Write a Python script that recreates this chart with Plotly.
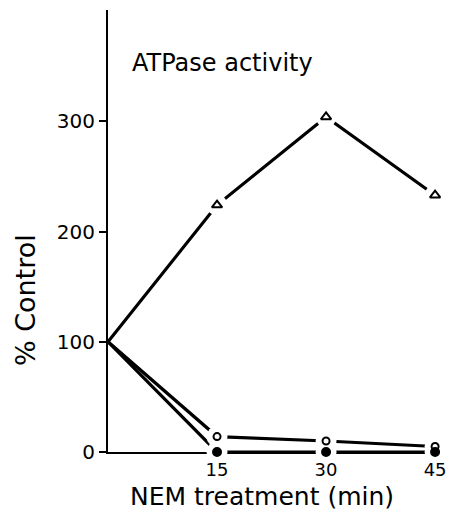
import plotly.graph_objects as go

time_min = [0, 15, 30, 45]
triangle_vals = [100, 224, 304, 233]
open_circle_vals = [100, 14, 10, 5]
filled_circle_vals = [100, 0, 0, 0]

x_ticks = [15, 30, 45]
y_ticks = [0, 100, 200, 300]

FONT = "DejaVu Sans"

fig = go.Figure()

series = [
    (triangle_vals, "triangle-up-open", 9),
    (open_circle_vals, "circle-open", 7),
    (filled_circle_vals, "circle", 8),
]

for vals, sym, sz in series:
    fig.add_trace(go.Scatter(x=time_min, y=vals, mode="lines",
                             line=dict(color="black", width=3.2),
                             showlegend=False, hoverinfo="skip", cliponaxis=False))
for vals, sym, sz in series:
    fig.add_trace(go.Scatter(x=time_min[1:], y=vals[1:], mode="markers",
                             marker=dict(symbol="circle", size=21, color="white",
                                         line=dict(width=0)),
                             showlegend=False, hoverinfo="skip", cliponaxis=False))
for vals, sym, sz in series:
    fig.add_trace(go.Scatter(x=time_min[1:], y=vals[1:], mode="markers",
                             marker=dict(symbol=sym, size=sz, color="black",
                                         line=dict(width=2, color="black")),
                             showlegend=False, hoverinfo="skip", cliponaxis=False))

fig.add_annotation(text="ATPase activity", x=0.067, y=0.88, xref="paper", yref="paper",
                   xanchor="left", yanchor="middle", showarrow=False,
                   font=dict(family=FONT, size=24, color="black"))
fig.add_annotation(text="NEM treatment (min)", x=0.467, y=-0.1, xref="paper", yref="paper",
                   xanchor="center", yanchor="middle", showarrow=False,
                   font=dict(family=FONT, size=25, color="black"))
fig.add_annotation(text="% Control", x=-0.248, y=0.344, xref="paper", yref="paper",
                   xanchor="center", yanchor="middle", showarrow=False, textangle=-90,
                   font=dict(family=FONT, size=27, color="black"))

fig.update_layout(
    width=450, height=510,
    margin=dict(l=108, r=12, t=10, b=58),
    paper_bgcolor="white", plot_bgcolor="white",
    font=dict(family=FONT, color="black"),
    xaxis=dict(range=[0, 45.4], tickvals=x_ticks, ticktext=[str(v) for v in x_ticks],
               showgrid=False, zeroline=False, showline=True, linecolor="black",
               linewidth=2, ticks="", tickfont=dict(size=18), automargin=False,
               layer="below traces", ticklabelstandoff=0),
    yaxis=dict(range=[0, 401], tickvals=y_ticks, ticktext=[str(v) for v in y_ticks],
               showgrid=False, zeroline=False, showline=True, linecolor="black",
               linewidth=2, ticks="outside", ticklen=7, tickwidth=2, tickcolor="black",
               tickfont=dict(size=20), automargin=False, layer="below traces"),
)

# remove the page's default 8px body margin so the figure fills the window exactly
fig.write_html("out.html", config={"displayModeBar": False},
               post_script="document.body.style.margin='0';document.body.style.overflow='hidden';")
